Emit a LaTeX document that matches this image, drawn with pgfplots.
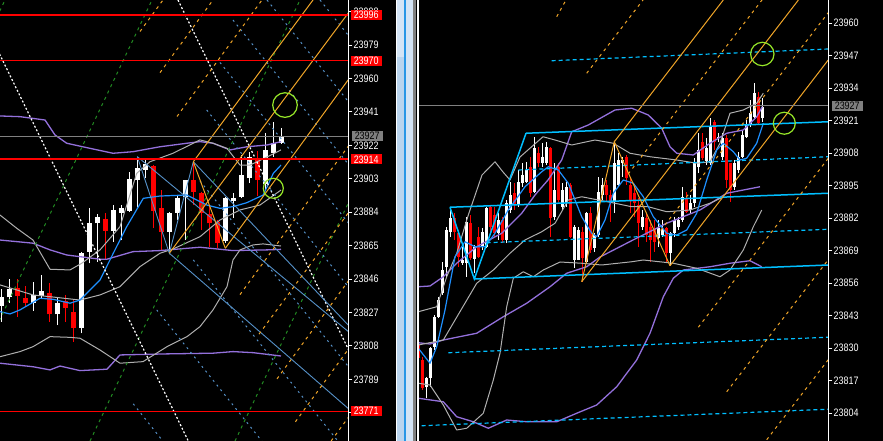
\documentclass[border=0pt]{standalone}
\usepackage{fontspec}
\setmainfont{Liberation Sans}
\usepackage{pgfplots}
\usepackage{pgfplotstable}
\pgfplotsset{compat=1.18}

\definecolor{mtorange}{RGB}{240,165,40}
\definecolor{mtgreen}{RGB}{34,139,34}
\definecolor{mtsteel}{RGB}{85,145,200}
\definecolor{mtpurple}{RGB}{147,112,219}
\definecolor{mtgray}{RGB}{175,175,175}
\definecolor{mtblue}{RGB}{30,144,255}
\definecolor{mtcyan}{RGB}{0,191,255}
\definecolor{mtlime}{RGB}{150,230,40}
\definecolor{bidgray}{RGB}{128,128,128}
\definecolor{sepblue}{RGB}{185,212,238}
\definecolor{sepblue2}{RGB}{212,228,245}
\definecolor{sepline}{RGB}{40,150,230}

\newcommand{\mtfont}{\fontsize{10.8}{10.8}\selectfont}

\tikzset{
 odash/.style={mtorange, line width=1pt, dash pattern=on 3pt off 4pt},
 osolid/.style={mtorange, line width=1pt},
 gdash/.style={mtgreen, line width=1pt, dash pattern=on 3pt off 4pt},
 wdot/.style={white, line width=1.2pt, dash pattern=on 2pt off 2pt},
 sbdot/.style={mtsteel, line width=1pt, dash pattern=on 2pt off 4pt},
 sbsolid/.style={mtsteel, line width=0.9pt},
 cdash/.style={mtcyan, line width=1.2pt, dash pattern=on 4pt off 3pt},
 csolid/.style={mtcyan, line width=1.5pt},
 pline/.style={mtpurple, line width=1.3pt, line join=round},
 gline/.style={mtgray, line width=1pt, line join=round},
 bline/.style={mtblue, line width=1.2pt, line join=round},
 lbl/.style={anchor=west, inner sep=0pt, minimum height=10pt, minimum width=37pt, font=\mtfont, xscale=0.83},
}

\pgfplotsset{
 wick/.style={draw=none, mark=none, error bars/.cd, y dir=plus, y explicit, error mark=none, error bar style={draw=#1, line width=1pt, solid}},
 body/.style 2 args={draw=none, mark=none, error bars/.cd, y dir=plus, y explicit, error mark=none, error bar style={draw=#1, line width=#2, solid}},
 mtaxis/.style={scale only axis, axis line style={draw=none}, xtick=\empty,
   ytick pos=right, yticklabel pos=right, tick align=outside, major tick length=4pt,
   tick style={white, line width=1pt},
   yticklabel style={font=\mtfont, text=white, xscale=0.83, anchor=west, inner sep=0pt, xshift=1.5pt},
   clip mode=individual},
 ring/.style={only marks, mark=o, mark size=#1, mark options={draw=mtlime, line width=1.2pt}},
}

% Left chart candles: i  open high low close
\pgfplotstableread[row sep=\\]{
i O H L C\\
0 23830.9 23840.2 23821.8 23835.7\\
1 23835.7 23845.9 23832.6 23840.2\\
4 23832.3 23844.4 23828.1 23837.0\\
5 23836.4 23848.2 23834.5 23839.4\\
7 23826.0 23835.1 23819.9 23832.3\\
10 23818.1 23861.6 23815.2 23860.7\\
11 23861.6 23886.2 23855.0 23877.7\\
12 23877.7 23883.0 23855.9 23881.1\\
14 23873.5 23888.1 23867.3 23885.3\\
15 23883.7 23888.1 23868.2 23886.2\\
16 23884.7 23907.0 23884.3 23902.7\\
17 23902.3 23915.6 23887.2 23909.0\\
18 23908.0 23913.7 23903.3 23911.4\\
21 23873.0 23884.3 23860.7 23883.7\\
22 23883.7 23893.8 23879.6 23891.9\\
23 23892.8 23902.3 23868.2 23902.3\\
28 23867.8 23892.8 23866.4 23891.9\\
29 23890.6 23894.8 23880.6 23891.9\\
30 23892.7 23916.5 23891.9 23905.2\\
31 23903.5 23918.2 23900.5 23915.6\\
33 23900.1 23928.9 23896.6 23919.4\\
34 23917.5 23935.5 23915.6 23923.2\\
35 23923.5 23931.7 23922.8 23927.3\\
}\lbull
\pgfplotstableread[row sep=\\]{
i O H L C\\
2 23841.0 23845.9 23824.7 23836.4\\
3 23835.3 23842.1 23830.3 23832.6\\
6 23838.3 23843.6 23821.8 23826.0\\
8 23833.7 23837.0 23821.8 23829.4\\
9 23827.3 23834.1 23810.5 23818.1\\
13 23880.0 23883.7 23856.9 23873.5\\
19 23910.3 23910.9 23874.9 23884.7\\
20 23886.2 23896.6 23862.6 23873.0\\
24 23902.3 23912.7 23888.1 23895.7\\
25 23895.1 23895.7 23873.9 23883.7\\
26 23883.0 23887.6 23864.4 23877.7\\
27 23878.6 23879.6 23863.5 23866.7\\
32 23914.8 23918.8 23893.2 23902.3\\
}\lbear

% Right chart candles
\pgfplotstableread[row sep=\\]{
k O H L C\\
2 23814.6 23818.6 23810.0 23818.0\\
3 23818.0 23830.6 23814.6 23830.0\\
4 23830.6 23843.3 23829.3 23842.6\\
5 23842.6 23850.6 23842.0 23849.3\\
6 23852.1 23864.5 23851.3 23861.3\\
7 23862.6 23878.6 23858.6 23877.3\\
8 23876.6 23886.0 23874.6 23882.0\\
11 23864.0 23870.6 23863.3 23865.3\\
12 23864.0 23882.6 23858.6 23880.6\\
14 23865.7 23871.3 23860.0 23870.6\\
16 23870.6 23878.0 23869.3 23876.6\\
17 23870.6 23886.6 23870.0 23886.0\\
20 23876.0 23884.0 23873.3 23881.3\\
22 23873.3 23889.3 23872.0 23888.0\\
23 23885.3 23896.6 23884.0 23891.3\\
25 23887.3 23901.3 23886.6 23896.6\\
26 23896.0 23904.0 23894.6 23899.3\\
27 23896.6 23904.6 23896.0 23901.3\\
29 23892.6 23914.6 23892.0 23910.0\\
31 23904.0 23912.0 23902.6 23906.6\\
32 23904.0 23912.6 23903.3 23910.6\\
34 23882.6 23904.0 23881.3 23893.3\\
36 23886.6 23896.0 23885.3 23893.3\\
37 23888.0 23896.6 23886.6 23894.6\\
39 23865.3 23879.3 23862.0 23878.6\\
40 23865.3 23878.6 23865.3 23877.3\\
42 23864.6 23884.6 23864.0 23884.0\\
44 23870.0 23876.0 23868.6 23875.3\\
45 23875.3 23898.6 23874.6 23892.6\\
46 23891.3 23898.0 23889.3 23895.3\\
49 23888.6 23912.6 23884.0 23904.0\\
50 23895.3 23908.0 23894.6 23905.3\\
51 23904.0 23906.6 23898.6 23905.3\\
56 23878.6 23885.3 23877.3 23882.6\\
60 23874.0 23881.3 23870.6 23878.0\\
61 23875.3 23881.3 23874.6 23877.3\\
63 23868.0 23876.6 23863.0 23876.0\\
64 23876.0 23882.6 23874.6 23881.3\\
65 23878.6 23882.6 23877.3 23881.3\\
66 23881.3 23894.6 23880.6 23890.6\\
68 23885.3 23891.3 23884.0 23888.0\\
69 23888.0 23906.0 23886.6 23904.0\\
70 23902.6 23916.0 23900.0 23909.3\\
72 23904.9 23914.1 23903.3 23910.1\\
73 23904.0 23922.0 23903.3 23918.6\\
75 23914.0 23916.0 23912.6 23914.6\\
76 23906.6 23916.0 23905.3 23914.0\\
79 23894.6 23905.3 23893.3 23904.0\\
80 23901.3 23908.6 23900.0 23906.6\\
81 23906.6 23917.3 23906.0 23915.3\\
82 23914.6 23921.3 23914.0 23919.3\\
83 23919.3 23929.3 23918.6 23924.0\\
84 23922.6 23936.0 23922.0 23932.0\\
86 23922.0 23930.0 23920.6 23926.6\\
}\rbull
\pgfplotstableread[row sep=\\]{
k O H L C\\
0 23831.3 23832.9 23824.5 23826.1\\
1 23825.3 23826.5 23813.3 23814.1\\
9 23882.0 23884.0 23873.3 23876.6\\
10 23876.0 23877.3 23862.6 23866.6\\
13 23880.0 23883.3 23865.3 23866.0\\
15 23874.6 23878.6 23866.0 23866.6\\
18 23886.6 23887.3 23876.6 23878.6\\
19 23883.3 23886.6 23874.6 23876.0\\
21 23881.3 23882.6 23872.0 23873.3\\
24 23892.0 23896.0 23885.3 23887.3\\
28 23902.6 23906.6 23890.6 23892.0\\
30 23908.0 23910.6 23902.6 23904.0\\
33 23910.0 23910.6 23874.6 23882.0\\
35 23902.6 23904.0 23888.6 23889.3\\
38 23895.3 23896.0 23874.0 23874.6\\
41 23876.6 23878.6 23856.6 23866.0\\
43 23884.0 23886.6 23868.0 23869.3\\
47 23895.3 23897.3 23888.6 23891.3\\
48 23891.3 23893.3 23880.6 23888.6\\
52 23906.6 23907.3 23895.3 23898.0\\
53 23895.3 23898.0 23884.0 23889.3\\
54 23892.0 23894.6 23882.6 23888.0\\
55 23887.3 23890.0 23870.6 23880.0\\
57 23882.0 23884.0 23872.6 23875.3\\
58 23878.6 23881.3 23864.6 23873.3\\
59 23878.0 23881.3 23868.6 23872.6\\
62 23878.0 23878.6 23864.0 23868.0\\
67 23890.0 23892.6 23884.0 23884.6\\
71 23912.6 23916.0 23905.3 23906.0\\
74 23920.6 23921.3 23909.3 23912.6\\
77 23914.0 23915.3 23894.0 23897.3\\
78 23904.0 23904.0 23888.6 23893.3\\
85 23930.6 23932.6 23919.3 23920.0\\
}\rbear

\begin{document}
\begin{tikzpicture}
\useasboundingbox (0,0) rectangle (883pt,441pt);
\fill[black] (0,0) rectangle (883pt,441pt);

% ================= LEFT CHART =================
\begin{axis}[mtaxis, at={(0pt,0pt)}, anchor=south west, width=348.3pt, height=441pt,
  xmin=0, xmax=348.3, ymin=23754.0, ymax=24004.6,
  ytick={23998,23979,23960,23941,23922,23903,23884,23865,23846,23827,23808,23789,23770},
  yticklabels={23998,23979,23960,23941,23922,23903,23884,23865,23846,23827,23808,23789,{}},
  after end axis/.code={
    \node[lbl, fill=red, text=white] at (axis cs:350.7,23996) {23996};
    \node[lbl, fill=red, text=white] at (axis cs:350.7,23970) {23970};
    \node[lbl, fill=bidgray, text=black] at (axis cs:351.7,23927.3) {23927};
    \node[lbl, fill=red, text=white] at (axis cs:350.7,23914) {23914};
    \node[lbl, fill=red, text=white] at (axis cs:350.7,23771) {23771};
  }]
% candles
\addplot[wick=white] table[x expr={1.3+8*\thisrow{i}}, y=L, y error expr={\thisrow{H}-\thisrow{L}}] {\lbull};
\addplot[body={white}{5pt}] table[x expr={1.3+8*\thisrow{i}}, y=O, y error expr={\thisrow{C}-\thisrow{O}}] {\lbull};
\addplot[wick=red] table[x expr={1.3+8*\thisrow{i}}, y=L, y error expr={\thisrow{H}-\thisrow{L}}] {\lbear};
\addplot[body={red}{5pt}] table[x expr={1.3+8*\thisrow{i}}, y=C, y error expr={\thisrow{O}-\thisrow{C}}] {\lbear};
% indicators
\addplot[pline] coordinates {(0,23938.7) (20,23938.3) (45,23936.4) (55,23927.9) (66.7,23923.2) (90,23920.3) (113,23917.5) (133,23918.4) (160,23921.2) (187,23923.2) (200,23924.1) (213,23923.2) (230,23919.4) (247,23921.2) (267,23922.2) (281,23924.1)};
\addplot[pline] coordinates {(0,23868.2) (33,23866.4) (50,23862.6) (66.7,23859.7) (100,23857.3) (107,23857.3) (133,23861.6) (160,23862.2) (187,23863.5) (200,23864.1) (233,23862.2) (267,23862.6) (281,23862.9)};
\addplot[pline] coordinates {(0,23798.2) (33,23796.2) (50,23794.4) (60,23796.6) (80,23794.0) (107,23794.8) (120,23802.9) (167,23803.5) (213,23803.9) (233,23804.8) (253,23804.2) (281,23802.3)};
\addplot[gline] coordinates {(0,23882.4) (16.7,23874.9) (33,23868.2) (50,23851.6) (70,23851.2) (81.7,23855.0) (100,23862.6) (120,23875.8) (136.7,23906.1) (150,23912.7) (173,23917.5) (200,23925.1) (213,23923.2) (227,23920.3) (240,23910.8) (250,23910.8) (265,23914.8) (281,23919.4)};
\addplot[gline] coordinates {(0,23842.7) (33,23837.0) (50,23836.0) (80,23834.1) (100,23837.0) (120,23841.7) (140,23853.1) (160,23860.7) (173,23863.1) (200,23870.1) (220,23879.6) (240,23885.3) (260,23888.1) (281,23896.6)};
\addplot[gline] coordinates {(0,23801.9) (20,23804.8) (33,23807.6) (50,23813.3) (70,23812.9) (80,23812.4) (100,23805.7) (120,23798.2) (143,23799.1) (167,23807.6) (187,23813.3) (200,23819.0) (213,23828.5) (227,23841.7) (233,23856.9) (240,23862.6) (253,23865.4) (263,23866.0) (281,23864.8)};
\addplot[bline] coordinates {(0,23827.5) (10,23826.2) (20,23828.5) (40,23835.1) (53.3,23834.5) (70,23832.3) (80,23834.1) (100,23845.5) (113.3,23860.7) (126.7,23875.8) (143.3,23891.9) (160,23893.2) (186.7,23893.8) (206.7,23888.1) (220,23886.2) (233.3,23887.2) (246.7,23889.4) (263.3,23893.8) (273.3,23906.1) (281,23910.8)};
% objects: green fan
\addplot[gdash] coordinates {(-205,23754.0) (5,24004.6)};
\addplot[gdash] coordinates {(-58,23754.0) (152,24004.6)};
\addplot[gdash] coordinates {(90,23754.0) (300,24004.6)};
\addplot[gdash] coordinates {(235,23754.0) (445,24004.6)};
% white dotted
\addplot[wdot] coordinates {(-26.8,24004.6) (188.3,23754.0)};
\addplot[wdot] coordinates {(178,24004.6) (393.1,23754.0)};
% steel blue dotted
\addplot[sbdot] coordinates {(133.3,23775.1) (162.8,23754.0)};
\addplot[sbdot] coordinates {(156.7,23828.5) (261.8,23754.0)};
\addplot[sbdot] coordinates {(193.3,23856.9) (337.8,23754.0)};
\addplot[sbdot] coordinates {(200,23901.8) (407.8,23754.0)};
\addplot[sbdot] coordinates {(206.7,23942.1) (471.8,23754.0)};
\addplot[sbdot] coordinates {(220,23969.1) (522.8,23754.0)};
\addplot[sbdot] coordinates {(233,23993.2) (569.8,23754.0)};
\addplot[sbdot] coordinates {(267,24004.6) (619.8,23754.0)};
\addplot[sbdot] coordinates {(320,24004.6) (672.8,23754.0)};
% steel blue solid
\addplot[sbsolid] coordinates {(137.3,23915.6) (350,23815.4)};
\addplot[sbsolid] coordinates {(169.3,23860.7) (350,23771.6)};
\addplot[sbsolid] coordinates {(193.3,23912.7) (350,23818.8)};
\addplot[sbsolid] coordinates {(137.3,23915.6) (169.3,23860.7) (193.3,23912.7)};
% orange
\addplot[osolid] coordinates {(193.3,23912.7) (225.3,23863.5)};
\addplot[osolid] coordinates {(193.3,23912.7) (313,24004.6)};
\addplot[osolid] coordinates {(169.3,23860.7) (358,24004.6)};
\addplot[osolid] coordinates {(225.3,23863.5) (406.5,24004.6)};
\addplot[odash] coordinates {(140,23986.7) (163,24004.6)};
\addplot[odash] coordinates {(160,23963.3) (213,24004.6)};
\addplot[odash] coordinates {(177,23938.4) (262,24004.6)};
\addplot[odash] coordinates {(240,23837.2) (455,24004.6)};
\addplot[odash] coordinates {(259,23814.7) (505,24004.6)};
\addplot[odash] coordinates {(277,23789.3) (553,24004.6)};
\addplot[odash] coordinates {(295.4,23764.9) (603,24004.6)};
\addplot[odash] coordinates {(331.1,23754.0) (653,24004.6)};
% horizontal lines
\addplot[bidgray, line width=1pt] coordinates {(0,23927) (348.3,23927)};
\addplot[red, line width=2pt] coordinates {(0,23996) (348.3,23996)};
\addplot[red, line width=1pt] coordinates {(0,23970) (348.3,23970)};
\addplot[red, line width=2pt] coordinates {(0,23914) (348.3,23914)};
\addplot[red, line width=1pt] coordinates {(0,23771) (348.3,23771)};
% circles
\addplot[ring=12.3pt] coordinates {(285,23944.9)};
\addplot[ring=10pt] coordinates {(273.3,23897.6)};
\end{axis}

% ================= RIGHT CHART =================
\begin{axis}[mtaxis, at={(418.5pt,0pt)}, anchor=south west, width=409.8pt, height=441pt,
  xmin=418.5, xmax=828.3, ymin=23792.9, ymax=23969.3,
  ytick={23960,23947,23934,23921,23908,23895,23882,23869,23856,23843,23830,23817,23804},
  yticklabels={23960,23947,23934,23921,23908,23895,23882,23869,23856,23843,23830,23817,23804},
  after end axis/.code={
    \node[lbl, fill=bidgray, text=black] at (axis cs:831.7,23927) {23927};
  }]
\addplot[wick=white] table[x expr={418.3+4*\thisrow{k}}, y=L, y error expr={\thisrow{H}-\thisrow{L}}] {\rbull};
\addplot[body={white}{2.6pt}] table[x expr={418.3+4*\thisrow{k}}, y=O, y error expr={\thisrow{C}-\thisrow{O}}] {\rbull};
\addplot[wick=red] table[x expr={418.3+4*\thisrow{k}}, y=L, y error expr={\thisrow{H}-\thisrow{L}}] {\rbear};
\addplot[body={red}{2.6pt}] table[x expr={418.3+4*\thisrow{k}}, y=C, y error expr={\thisrow{O}-\thisrow{C}}] {\rbear};
% indicators
\addplot[pline] coordinates {(418.3,23854.6) (430,23854.9) (443.3,23858.6) (456.7,23864.0) (476.7,23870.6) (501.7,23876.0) (521.7,23884.0) (535,23891.3) (548,23897.3) (561.7,23905.3) (571.7,23916.6) (588.3,23919.3) (615,23925.3) (631.7,23926.0) (648.3,23923.3) (661.7,23918.0) (670,23910.6) (676.7,23908.0) (693.3,23907.3) (710,23912.0) (726.7,23916.0) (743.3,23917.3) (756.7,23922.6) (762.3,23926.6)};
\addplot[pline] coordinates {(418.3,23832.2) (430,23831.7) (443.3,23833.3) (476.7,23836.0) (503.3,23842.6) (526.7,23848.0) (550,23854.6) (566.7,23860.0) (586.7,23862.6) (600,23866.5) (633,23873.3) (666.7,23880.0) (700,23885.3) (726.7,23892.0) (760,23894.6)};
\addplot[pline] coordinates {(418.3,23810.0) (443.3,23808.6) (456.7,23802.6) (473.3,23800.6) (488.3,23798.0) (506.7,23801.3) (526.7,23800.6) (556.7,23800.6) (576.7,23804.0) (596.7,23807.3) (616.7,23814.6) (636.7,23825.3) (650,23836.0) (663.3,23850.6) (673.3,23858.0) (683.3,23861.3) (710,23862.6) (730,23864.0) (750,23865.0) (761.7,23862.6)};
\addplot[gline] coordinates {(418.3,23844.6) (436.7,23846.6) (446.7,23858.6) (456.7,23868.0) (468.3,23883.3) (482,23899.3) (495,23904.6) (503,23900.5) (510,23897.3) (520,23906.5) (543,23914.6) (555,23913.3) (571.7,23911.3) (595,23913.3) (613.3,23912.0) (630,23908.0) (650,23906.6) (676.7,23905.3) (696.7,23904.0) (710,23904.6) (720,23912.0) (730,23924.0) (743.3,23925.3) (756.7,23928.0) (763.3,23932.0)};
\addplot[gline] coordinates {(418.3,23831.3) (443.3,23833.3) (476.7,23856.0) (493.3,23861.3) (510,23868.0) (525,23873.3) (541.7,23876.6) (555,23880.0) (568.3,23889.3) (581.7,23890.6) (598.3,23889.3) (615,23888.0) (631.7,23886.6) (648.3,23886.6) (666.7,23884.6) (690,23885.3) (710,23888.0) (723,23890.5)};
\addplot[gline] coordinates {(418.3,23816.0) (430,23815.3) (443.3,23807.3) (456.7,23797.3) (466.7,23798.0) (483.3,23804.0) (493.3,23817.3) (500,23828.0) (506.7,23846.6) (513.3,23858.0) (523.3,23860.6) (533.3,23858.6) (543.3,23861.3) (560,23864.5) (581.7,23864.0) (601.7,23863.3) (631.7,23864.6) (643.3,23865.3) (673.3,23864.0) (696.7,23862.0) (720,23858.6) (730,23861.3) (743.3,23869.3) (753.3,23878.6) (761.7,23885.3)};
\addplot[bline] coordinates {(418.3,23830.0) (430,23824.0) (436.7,23830.6) (445,23845.3) (455,23866.6) (465,23872.6) (475,23870.6) (485,23870.6) (495,23876.0) (508.3,23885.3) (525,23894.6) (541.7,23900.6) (548.3,23902.6) (558.3,23901.3) (568.3,23896.0) (575,23889.3) (581.7,23882.6) (591.7,23876.0) (596.7,23874.6) (605,23881.3) (613.3,23892.0) (623.3,23897.3) (633.3,23896.0) (643.3,23890.6) (653.3,23882.6) (666.7,23876.0) (676.7,23875.3) (686.7,23877.3) (696.7,23884.0) (706.7,23897.3) (716.7,23909.3) (723.3,23912.0) (733.3,23908.6) (740,23905.3) (746.7,23906.0) (756.7,23912.0) (763.3,23920.0)};
% cyan channel
\addplot[cdash] coordinates {(551.7,23945.0) (828.3,23949.7)};
\addplot[cdash] coordinates {(518.3,23901.3) (828.3,23906.6)};
\addplot[cdash] coordinates {(486.7,23872.2) (828.3,23877.6)};
\addplot[cdash] coordinates {(448.3,23828.2) (828.3,23834.4)};
\addplot[cdash] coordinates {(421.7,23799.0) (828.3,23805.6)};
\addplot[csolid] coordinates {(526,23916.0) (828.3,23920.6)};
\addplot[csolid] coordinates {(474.3,23857.7) (828.3,23863.3)};
\addplot[csolid] coordinates {(450,23886.4) (828.3,23892.0)};
\addplot[csolid] coordinates {(450,23886.4) (474.3,23857.7) (526,23916.0)};
% orange pitchfork
\addplot[osolid] coordinates {(581.7,23856.6) (614.3,23912.6) (670,23863.0)};
\addplot[osolid] coordinates {(581.7,23856.6) (798.4,23969.3)};
\addplot[osolid] coordinates {(614.3,23912.6) (723.3,23969.3)};
\addplot[osolid] coordinates {(670,23863.0) (874.4,23969.3)};
\addplot[odash] coordinates {(556.7,23962.6) (566,23969.3)};
\addplot[odash] coordinates {(586.7,23940.0) (643,23969.3)};
\addplot[odash] coordinates {(628.2,23899.7) (762,23969.3)};
\addplot[odash] coordinates {(656.4,23874.9) (838,23969.3)};
\addplot[odash] coordinates {(698.3,23838.4) (950,23969.3)};
\addplot[odash] coordinates {(726.7,23812.6) (1028,23969.3)};
\addplot[odash] coordinates {(766.7,23793.4) (1105,23969.3)};
% bid line
\addplot[bidgray, line width=1pt] coordinates {(418.5,23927) (828.3,23927)};
% circles
\addplot[ring=11.7pt] coordinates {(762.3,23947.7)};
\addplot[ring=11pt] coordinates {(784.3,23920.0)};
\end{axis}

% frame lines and the splitter between the two charts
\draw[white, line width=1pt] (348.3pt,0) -- (348.3pt,441pt);
\draw[white, line width=1pt] (828.3pt,0) -- (828.3pt,441pt);
\fill[sepblue] (397.3pt,0) rectangle (404pt,441pt);
\fill[sepblue2] (397.3pt,384pt) rectangle (404pt,441pt);
\fill[sepblue2] (406pt,0) rectangle (413.3pt,441pt);
\fill[sepline] (404pt,0) rectangle (406pt,441pt);
\fill[bidgray] (413.3pt,0) rectangle (416pt,441pt);
\draw[white, line width=1pt] (396.8pt,0) -- (396.8pt,441pt);
\draw[white, line width=1.3pt] (418pt,0) -- (418pt,441pt);
\end{tikzpicture}
\end{document}
